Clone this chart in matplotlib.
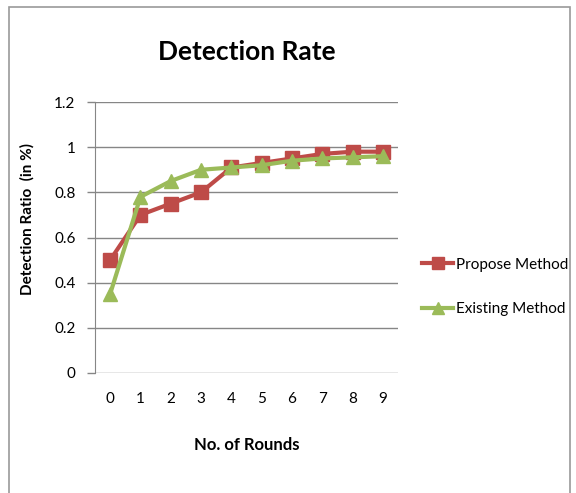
import matplotlib.pyplot as plt
from matplotlib.patches import Rectangle
import numpy as np

plt.rcParams['font.family'] = ['Lato', 'DejaVu Sans']

rounds = ['0', '1', '2', '3', '4', '5', '6', '7', '8', '9']
propose = [0.50, 0.70, 0.75, 0.80, 0.91, 0.93, 0.95, 0.97, 0.98, 0.98]
existing = [0.35, 0.78, 0.85, 0.90, 0.91, 0.92, 0.94, 0.95, 0.955, 0.96]
y_ticks = [0, 0.2, 0.4, 0.6, 0.8, 1, 1.2]
y_labels = ['0', '0.2', '0.4', '0.6', '0.8', '1', '1.2']

fig = plt.figure(figsize=(5.76, 4.93), dpi=100)
W, H = 576, 493

# chart area frame
frame = Rectangle((9 / W, -0.1), (570 - 9) / W, 1.1 - 7 / H, transform=fig.transFigure,
                  fill=False, edgecolor='#9a9a9a', linewidth=1.2, zorder=0)
fig.patches.append(frame)

ax = fig.add_axes([95 / W, 1 - 373 / H, (398 - 95) / W, (373 - 102) / H])
x = np.arange(len(rounds))

ax.plot(x, propose, color='#BE4B48', linewidth=3, marker='s', markersize=10,
        label='Propose Method', zorder=3)
ax.plot(x, existing, color='#9BBB59', linewidth=3, marker='^', markersize=10,
        label='Existing Method', zorder=4)

ax.set_xlim(-0.5, 9.5)
ax.set_ylim(0, 1.2)
ax.set_xticks(x)
ax.set_xticklabels(rounds, fontsize=11)
ax.set_yticks(y_ticks)
ax.set_yticklabels(y_labels, fontsize=11)
ax.tick_params(axis='x', length=0, pad=14)
ax.tick_params(axis='y', length=6, width=1, color='#868686', pad=8)
ax.grid(axis='y', color='#868686', linewidth=1)
ax.set_axisbelow(True)
for side in ['top', 'right', 'bottom']:
    ax.spines[side].set_visible(False)
ax.spines['left'].set_color('#868686')

ax.set_title('Detection Rate', fontsize=19, fontweight='bold', pad=30)
ax.set_xlabel('No. of Rounds', fontsize=12, fontweight='bold', labelpad=22)
ax.set_ylabel('Detection Ratio  (in %)', fontsize=11, fontweight='bold')
ax.yaxis.set_label_coords(-0.2, 0.57)

leg = ax.legend(loc='center left', bbox_to_anchor=(1.035, 0.317), frameon=False,
                fontsize=11, handlelength=2.0, handletextpad=0.2, labelspacing=2.0,
                markerscale=0.8)

fig.savefig('out.png', dpi=100)
